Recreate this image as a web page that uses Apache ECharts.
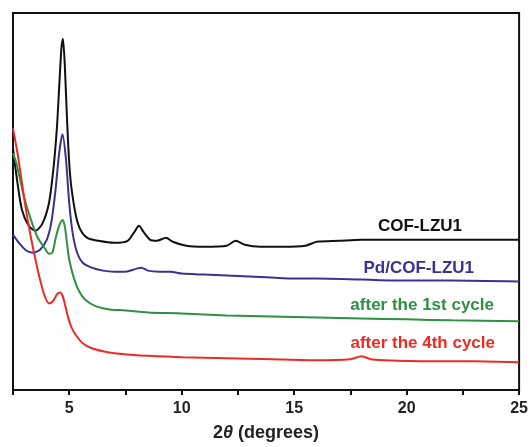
<!DOCTYPE html>
<html lang="en">
<head>
    <meta charset="UTF-8" />
    <title>XRD COF-LZU1</title>
    <script src="https://cdn.jsdelivr.net/npm/echarts@6/dist/echarts.min.js"></script>
    <style>
        html, body { margin: 0; padding: 0; background: #fff; }
    </style>
</head>
<body>
    <div id="chart" style="width: 531px; height: 447px"></div>
    <script>
        // 2θ (deg), intensity (a.u.)
        var cofLzu1 = [
            [2.5, 243], [2.7, 208], [2.9, 181], [3.2, 165], [3.5, 160], [3.8, 167],
            [4.1, 188], [4.3, 223], [4.45, 263], [4.55, 303], [4.65, 343], [4.72, 353],
            [4.8, 328], [4.9, 273], [5.0, 228], [5.1, 203], [5.3, 175], [5.5, 161],
            [5.8, 153], [6.3, 150], [7.0, 148], [7.6, 150], [7.9, 159], [8.1, 165],
            [8.3, 159], [8.6, 151], [8.9, 150], [9.3, 153], [9.6, 149], [10.2, 145],
            [11, 144], [12, 145], [12.4, 150], [12.8, 146], [13.5, 144], [14.5, 144],
            [15.5, 145], [16.0, 149], [17, 150], [18, 151], [20, 151], [22, 151], [25, 151]
        ];
        var pdCof = [
            [2.5, 156], [2.8, 147], [3.1, 140], [3.4, 138], [3.7, 141], [4.0, 151],
            [4.2, 168], [4.4, 203], [4.55, 238], [4.7, 257], [4.85, 233], [5.0, 188],
            [5.15, 158], [5.35, 138], [5.6, 128], [6.0, 123], [6.5, 120], [7.0, 119],
            [7.5, 119], [8.0, 122], [8.2, 123], [8.5, 120], [9.0, 119], [9.5, 119],
            [10, 117], [11, 116], [12, 115], [13, 114], [14, 113], [15, 112], [16, 112],
            [18, 111], [20, 110], [22, 110], [25, 109]
        ];
        var cycle1 = [
            [2.5, 238], [2.65, 228], [2.8, 213], [3.0, 193], [3.3, 171], [3.6, 153],
            [3.9, 143], [4.1, 137], [4.25, 138], [4.4, 153], [4.55, 165], [4.7, 171],
            [4.8, 165], [4.9, 148], [5.0, 131], [5.2, 113], [5.4, 101], [5.7, 91],
            [6.2, 84], [6.8, 81], [7.5, 80], [8.5, 78], [10, 77], [12, 75], [14, 74],
            [16, 73], [18, 72], [20, 71], [22, 70], [25, 69]
        ];
        var cycle4 = [
            [2.5, 263], [2.7, 238], [2.9, 208], [3.1, 178], [3.3, 153], [3.5, 131],
            [3.7, 111], [3.9, 95], [4.1, 87], [4.3, 90], [4.45, 96], [4.6, 98],
            [4.7, 95], [4.8, 87], [4.95, 73], [5.1, 63], [5.3, 55], [5.6, 47],
            [6.0, 42], [6.5, 39], [7.0, 37], [8, 35], [9, 34], [10, 33], [12, 32],
            [14, 31], [16, 30], [17.5, 31], [18.0, 34], [18.4, 31], [19, 30],
            [21, 29], [23, 29], [25, 28]
        ];
        var seriesNames = ["COF-LZU1", "Pd/COF-LZU1", "after the 1st cycle", "after the 4th cycle"];
        var seriesColors = ["#111111", "#3a3292", "#2e9143", "#ec2c24"];

        var font = "Arial, 'Liberation Sans', sans-serif";
        var mChart = echarts.init(document.getElementById("chart"));

        var allData = [cofLzu1, pdCof, cycle1, cycle4];
        var series = allData.map(function (d, i) {
            return {
                name: seriesNames[i],
                type: "line",
                data: d,
                showSymbol: false,
                smooth: 0.25,
                lineStyle: { color: seriesColors[i], width: 2 },
                itemStyle: { color: seriesColors[i] }
            };
        });

        // curve labels sit near the right side of each trace
        var labelPos = [[462, 228], [474, 270], [494, 307], [495, 345]];
        var labels = seriesNames.map(function (name, i) {
            return {
                type: "text",
                right: 531 - labelPos[i][0],
                top: labelPos[i][1] - 10,
                style: {
                    text: name,
                    fill: seriesColors[i],
                    font: "bold 17px " + font
                }
            };
        });

        var option = {
            animation: false,
            grid: {
                left: 13, right: 11, top: 13, bottom: 55,
                show: true,
                borderColor: "#111",
                borderWidth: 2
            },
            xAxis: {
                type: "value",
                min: 2.5,
                max: 25,
                interval: 2.5,
                axisLine: { show: true, lineStyle: { color: "#111", width: 2 } },
                axisTick: { show: true, length: 5, inside: false, lineStyle: { color: "#111", width: 2 } },
                splitLine: { show: false },
                axisLabel: {
                    margin: 11,
                    color: "#222",
                    fontSize: 16,
                    fontWeight: "bold",
                    fontFamily: font,
                    formatter: function (v) {
                        return v % 5 === 0 ? String(v) : "";
                    }
                },
                name: "2{i|θ} (degrees)",
                nameLocation: "middle",
                nameGap: 34,
                nameTextStyle: {
                    color: "#222",
                    fontSize: 18,
                    fontWeight: "bold",
                    fontFamily: font,
                    rich: {
                        i: { fontStyle: "italic", fontSize: 18, fontWeight: "bold", fontFamily: font, color: "#222" }
                    }
                }
            },
            yAxis: {
                type: "value",
                min: 0,
                max: 379,
                axisLine: { show: true, lineStyle: { color: "#111", width: 2 } },
                axisTick: { show: false },
                axisLabel: { show: false },
                splitLine: { show: false }
            },
            graphic: labels,
            series: series
        };
        mChart.setOption(option);
    </script>
</body>
</html>
